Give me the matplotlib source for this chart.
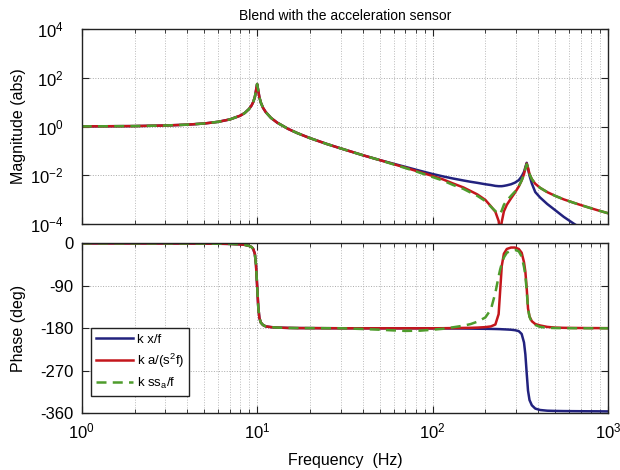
import matplotlib
matplotlib.use('Agg')
import matplotlib.pyplot as plt
from matplotlib.ticker import LogLocator, NullLocator, NullFormatter

plt.rcParams['font.family'] = ['Liberation Sans', 'DejaVu Sans']
plt.rcParams['mathtext.fontset'] = 'custom'
plt.rcParams['mathtext.rm'] = 'Liberation Sans'
plt.rcParams['mathtext.it'] = 'Liberation Sans:italic'
plt.rcParams['mathtext.default'] = 'regular'
plt.rcParams['axes.unicode_minus'] = False

# frequency grid (Hz)
freq = [1, 2, 3, 4, 5, 6, 7, 8, 8.5, 9, 9.3, 9.5, 9.7, 9.85, 10, 10.15, 10.3, 10.5,
        10.8, 11.2, 12, 13, 15, 17, 20, 25, 30, 40, 50, 60, 70, 85, 100, 115, 130,
        150, 165, 180, 200, 215, 228, 238, 243, 248, 255, 265, 280, 295, 310, 322,
        332, 338, 344, 350, 357, 368, 385, 410, 450, 500, 560, 640, 750, 870, 1000]

# magnitudes, shared part up to 50 Hz
mag_low = [1.01, 1.04, 1.10, 1.19, 1.33, 1.56, 1.96, 2.78, 3.6, 5.3, 7.4, 10.2, 16, 30,
           56, 30, 16, 9.6, 5.9, 3.9, 2.25, 1.45, 0.80, 0.53, 0.333, 0.19, 0.125,
           0.066, 0.0415]
mag_x = mag_low + [0.0292, 0.0218, 0.0150, 0.0111, 0.0088, 0.0073, 0.0060, 0.0053,
                   0.0048, 0.0042, 0.0039, 0.0036, 0.0035, 0.0035, 0.0035, 0.0036,
                   0.0038, 0.0042, 0.0049, 0.0062, 0.0088, 0.0135, 0.021, 0.032,
                   0.018, 0.0095, 0.0045, 0.0020, 0.00120, 0.00065, 0.00036, 0.00019,
                   0.000099, 0.000048, 0.000025, 0.000014]
mag_a = mag_low + [0.0282, 0.0203, 0.0132, 0.0092, 0.0066, 0.0046, 0.0031, 0.0022,
                   0.0016, 0.00095, 0.00052, 0.00031, 0.00013, 0.00004, 0.00012,
                   0.00032, 0.00060, 0.00110, 0.0019, 0.0034, 0.0060, 0.0110, 0.019,
                   0.030, 0.020, 0.0110, 0.0068, 0.0044, 0.0030, 0.0020, 0.00140,
                   0.00100, 0.00072, 0.00050, 0.00036, 0.00027]
mag_ss = mag_low + [0.0275, 0.0195, 0.0124, 0.0083, 0.0059, 0.0040, 0.0027, 0.0019,
                    0.0014, 0.00085, 0.00050, 0.00033, 0.00025, 0.00026, 0.00035,
                    0.00060, 0.00090, 0.00140, 0.0021, 0.0035, 0.0060, 0.0107, 0.018,
                    0.028, 0.019, 0.0110, 0.0068, 0.0044, 0.0030, 0.0020, 0.00140,
                    0.00100, 0.00072, 0.00050, 0.00036, 0.00027]

# phases (deg), shared part up to 30 Hz
ph_low = [-0.1, -0.2, -0.3, -0.4, -0.6, -0.9, -1.3, -2.3, -3.3, -5.5, -8, -12, -22,
          -45, -90, -135, -158, -168, -173, -176, -177.5, -178.5, -179.2, -179.5,
          -179.6, -179.8, -179.9]
ph_x = ph_low + [-180, -180, -180, -180, -180.1, -180.2, -180.3, -180.4, -180.5,
                 -180.7, -180.9, -181.1, -181.3, -181.5, -181.7, -181.8, -182,
                 -182.2, -182.5, -183, -184, -186, -192, -210, -235, -275, -312,
                 -332, -343, -350, -353, -354.5, -355, -355.3, -355.5, -355.7,
                 -355.8, -356]
ph_a = ph_low + [-180, -180, -180, -180, -180, -180, -179.8, -179.5, -179.2, -179,
                 -178.5, -177.5, -176, -172, -150, -99, -48, -22, -12, -9, -9, -12,
                 -20, -40, -60, -95, -138, -155, -165, -171, -174, -177, -178.5,
                 -179, -179.3, -179.5, -179.6, -179.7]
ph_ss = ph_low + [-181.5, -183, -184.5, -185.5, -185, -183, -181, -178, -174.5,
                  -171, -166, -157, -140, -105, -70, -55, -43, -30, -20, -15.5, -14,
                  -17, -28, -50, -68, -100, -138, -156, -167, -173, -177, -179,
                  -179.5, -179.7, -179.8, -179.9, -180, -180]

labels = ['k x/f', 'k a/(s$^2$f)', 'k ss$_a$/f']
colors = ['#22227e', '#c4161c', '#4e9c2c']

fig = plt.figure(figsize=(6.2, 4.7), dpi=100)
ax1 = fig.add_axes([81.7/620, 1-223.7/470, 526.3/620, 194.4/470])
ax2 = fig.add_axes([81.7/620, 1-413.3/470, 526.3/620, 170/470])

ax1.loglog(freq, mag_x, color=colors[0], lw=1.8)
ax1.loglog(freq, mag_a, color=colors[1], lw=1.8)
ax1.loglog(freq, mag_ss, color=colors[2], lw=1.8, ls=(0, (4, 2.5)))

ax2.semilogx(freq, ph_x, color=colors[0], lw=1.8, label=labels[0])
ax2.semilogx(freq, ph_a, color=colors[1], lw=1.8, label=labels[1])
ax2.semilogx(freq, ph_ss, color=colors[2], lw=1.8, ls=(0, (4, 2.5)), label=labels[2])

for ax in (ax1, ax2):
    ax.set_xlim(1, 1000)
    ax.xaxis.set_major_locator(LogLocator(base=10))
    ax.xaxis.set_minor_locator(LogLocator(base=10, subs=range(2, 10)))
    ax.xaxis.set_minor_formatter(NullFormatter())
    ax.tick_params(which='both', direction='in', top=True, right=True, labelsize=12,
                   color='#222222')
    ax.tick_params(which='major', length=5)
    ax.tick_params(which='minor', length=3)
    ax.tick_params(axis='x', pad=6)
    ax.grid(True, which='major', ls=':', color='#aaaaaa', lw=0.7)
    ax.grid(True, which='minor', axis='x', ls=':', color='#bbbbbb', lw=0.7)
    for s in ax.spines.values():
        s.set_color('#222222')
        s.set_linewidth(1.0)

ax1.set_ylim(1e-4, 1e4)
ax1.set_yticks([1e-4, 1e-2, 1e0, 1e2, 1e4])
ax1.yaxis.set_minor_locator(NullLocator())
ax1.tick_params(axis='y', pad=13)
ax1.set_xticklabels([])
ax1.set_ylabel('Magnitude (abs)', fontsize=11.5)
ax1.yaxis.set_label_coords(-0.106, 0.5)
ax1.set_title('Blend with the acceleration sensor', fontsize=10, pad=7)

ax2.set_ylim(-360, 0)
ax2.set_yticks([-360, -270, -180, -90, 0])
ax2.tick_params(axis='y', pad=6)
ax2.set_ylabel('Phase (deg)', fontsize=11.5)
ax2.yaxis.set_label_coords(-0.106, 0.5)
ax2.set_xlabel('Frequency  (Hz)', fontsize=11.5, labelpad=8)

leg = ax2.legend(loc='lower left', bbox_to_anchor=(0.017, 0.102), borderaxespad=0,
                 fancybox=False, edgecolor='#222222', framealpha=1, fontsize=9.5,
                 handlelength=2.8, handletextpad=0.3, labelspacing=0.45,
                 borderpad=0.4)
leg.get_frame().set_linewidth(1.0)

plt.savefig('out.png', dpi=100)
